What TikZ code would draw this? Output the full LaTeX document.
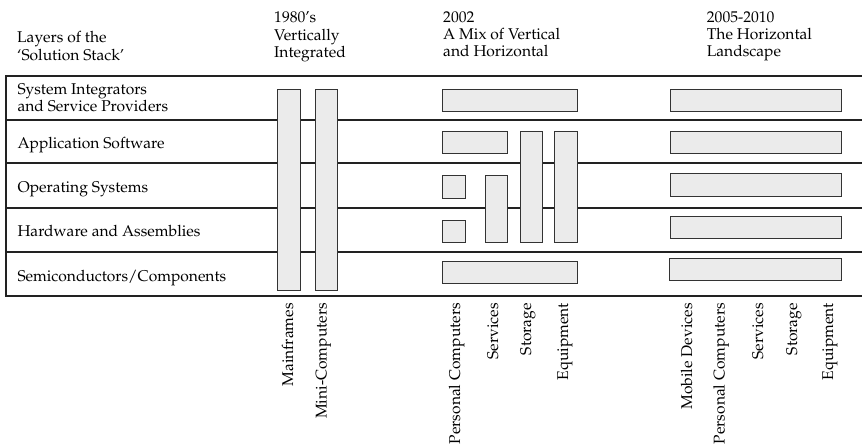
\documentclass[tikz,border=0pt]{standalone}
\usepackage[T1]{fontenc}
\usepackage{mathpazo}
\usetikzlibrary{fit}
\definecolor{barfill}{HTML}{EBEBEB}
\definecolor{barline}{HTML}{333333}
\definecolor{rulecol}{HTML}{222222}
\begin{document}
\begin{tikzpicture}[x=1pt,y=-1pt,
  txt/.style={font=\fontsize{15.6}{17.25}\selectfont, inner sep=0pt, text=black},
  hdr/.style={txt, anchor=base west},
  vlab/.style={txt, rotate=90, anchor=base east},
  bar/.style={draw=barline, fill=barfill, line width=0.9pt, inner sep=0pt, outer sep=0pt},
  gridline/.style={draw=rulecol, line width=1.5pt}]
\useasboundingbox (0,0) rectangle (862,446);

% column headings
\node[hdr] (h0a) at (17,43) {Layers of the};
\node[hdr] (h0b) at (17,60.25) {`Solution Stack'};
\node[hdr] (h1a) at (274,23) {1980's};
\node[hdr] (h1b) at (274,40.25) {Vertically};
\node[hdr] (h1c) at (274,57.5) {Integrated};
\node[hdr] (h2a) at (443,22.5) {2002};
\node[hdr] (h2b) at (443,39.75) {A Mix of Vertical};
\node[hdr] (h2c) at (443,57) {and Horizontal};
\node[hdr] (h3a) at (706.7,22.5) {2005-2010};
\node[hdr] (h3b) at (706.7,39.75) {The Horizontal};
\node[hdr] (h3c) at (706.7,57) {Landscape};

% the layer table
\draw[gridline] (862,76) -- (6,76) -- (6,296) -- (862,296);
\foreach \yy in {120,163,208,252}
  \draw[gridline] (6,\yy) -- (862,\yy);

% layer names
\node[hdr] (l1a) at (17.3,94.3) {System Integrators};
\node[hdr] (l1b) at (17.3,111.7) {and Service Providers};
\node[hdr] (l2) at (17.3,148.5) {Application Software};
\node[hdr] (l3) at (17.3,192.5) {Operating Systems};
\node[hdr] (l4) at (17.3,237) {Hardware and Assemblies};
\node[hdr] (l5) at (17.3,281.5) {Semiconductors/Components};

% 1980's: vertically integrated
\node[bar, fit={(277.7,89) (300,290)}] (mainframes) {};
\node[bar, fit={(315.3,89) (337.3,290)}] (minis) {};

% 2002: a mix
\node[bar, fit={(442.7,89.3) (577.7,111.7)}] (b2si) {};
\node[bar, fit={(442.7,131) (507.7,153.3)}] (b2app) {};
\node[bar, fit={(520,131) (542.3,242.7)}] (b2storage) {};
\node[bar, fit={(554.7,131) (577.3,242.7)}] (b2equip) {};
\node[bar, fit={(442.7,175.7) (465.7,198.3)}] (b2pcos) {};
\node[bar, fit={(442.7,220.3) (465.7,242.7)}] (b2pchw) {};
\node[bar, fit={(485,175.7) (507.7,242.7)}] (b2services) {};
\node[bar, fit={(442.7,261) (577.7,283.3)}] (b2semi) {};

% 2005-2010: horizontal
\node[bar, fit={(670.3,89.3) (841.7,111.7)}] (b3si) {};
\node[bar, fit={(670.3,131.7) (841.7,153.7)}] (b3app) {};
\node[bar, fit={(670.3,173.7) (841.7,196)}] (b3os) {};
\node[bar, fit={(670.3,216) (841.7,238.3)}] (b3hw) {};
\node[bar, fit={(669.3,258) (841.7,280.3)}] (b3semi) {};

% vertical segment labels
\node[vlab] (t1) at (293,303) {Mainframes};
\node[vlab] (t2) at (326.5,303) {Mini-Computers};
\node[vlab] (t3) at (460,303) {Personal Computers};
\node[vlab] (t4) at (498,303) {Services};
\node[vlab] (t5) at (531,303) {Storage};
\node[vlab] (t6) at (568,303) {Equipment};
\node[vlab] (t7) at (692,303) {Mobile Devices};
\node[vlab] (t8) at (724.5,303) {Personal Computers};
\node[vlab] (t9) at (763,303) {Services};
\node[vlab] (t10) at (797,303) {Storage};
\node[vlab] (t11) at (833,303) {Equipment};
\end{tikzpicture}
\end{document}
